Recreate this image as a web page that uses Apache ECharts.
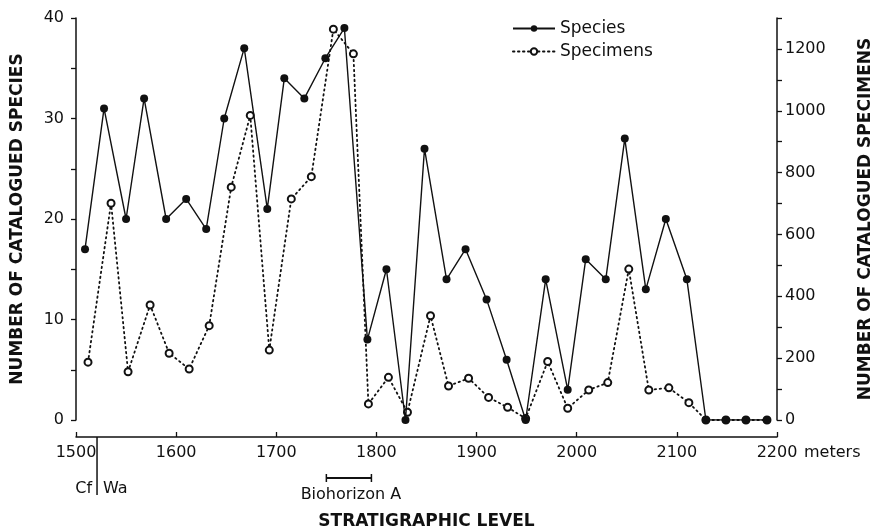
<!DOCTYPE html>
<html><head><meta charset="utf-8">
<script src="https://cdn.jsdelivr.net/npm/echarts@6/dist/echarts.min.js"></script>
<style>html,body{margin:0;padding:0;background:#fff}#c{width:879px;height:529px}</style>
</head><body><div id="c"></div>
<script>
// Stratigraphic level (meters) and catalogued species counts
const speciesLevel = [1509,1528,1550,1568,1590,1610,1630,1648,1668,1691,1708,1728,1749,1768,1791,1810,1829,1848,1870,1889,1910,1930,1949,1969,1991,2009,2029,2048,2069,2089,2110,2129,2149,2169,2190];
const speciesCount = [17,31,20,32,20,22,19,30,37,21,34,32,36,39,8,15,0,27,14,17,12,6,0,14,3,16,14,28,13,20,14,0,0,0,0];
// Stratigraphic level (meters) and catalogued specimen counts
const specimenLevel = [1512,1535,1552,1574,1593,1613,1633,1655,1674,1693,1715,1735,1757,1777,1792,1812,1831,1854,1872,1892,1912,1931,1949,1971,1991,2012,2031,2052,2072,2092,2112,2129,2149,2169,2190];
const specimenCount = [187,701,156,372,216,165,305,753,985,226,715,787,1264,1184,52,138,25,337,110,135,73,41,5,189,38,97,121,488,97,104,56,0,0,0,0];
// Annotations
const boundaryLevel = 1521;           // Cf | Wa boundary
const biohorizonA = [1750, 1795];     // Biohorizon A range

const FONT = 'DejaVu Sans';
const INK = '#111';
const chart = echarts.init(document.getElementById('c'), null, {renderer: 'canvas'});
const zip = (a, b) => a.map((v, i) => [v, b[i]]);

chart.setOption({
  animation: false,
  backgroundColor: '#fff',
  textStyle: {fontFamily: FONT, color: INK},
  grid: {left: 76, right: 102, top: 18, bottom: 109, containLabel: false, outerBoundsMode: 'none'},
  legend: {
    data: ['Species', 'Specimens'],
    orient: 'vertical', left: 507, top: 15,
    itemWidth: 42, itemHeight: 8, itemGap: 6,
    textStyle: {fontFamily: FONT, fontSize: 17, color: INK, lineHeight: 17}
  },
  xAxis: {
    type: 'value', min: 1500, max: 2200, interval: 100, offset: 17,
    name: 'STRATIGRAPHIC LEVEL', nameLocation: 'middle', nameGap: 76,
    nameTextStyle: {fontFamily: FONT, fontSize: 17, fontWeight: 'bold', color: INK},
    axisLine: {show: true, onZero: false, lineStyle: {color: INK, width: 1.5}},
    axisTick: {show: true, inside: true, length: 5, lineStyle: {color: INK, width: 1.3}},
    axisLabel: {fontFamily: FONT, fontSize: 16, color: INK, margin: 8, formatter: v => String(v)},
    splitLine: {show: false}
  },
  yAxis: [{
    type: 'value', min: 0, max: 40, interval: 5, position: 'left',
    name: 'NUMBER OF CATALOGUED SPECIES', nameLocation: 'middle', nameGap: 50, nameRotate: 90,
    nameTextStyle: {fontFamily: FONT, fontSize: 17, fontWeight: 'bold', color: INK},
    axisLine: {show: true, onZero: false, lineStyle: {color: INK, width: 1.5}},
    axisTick: {show: true, inside: false, length: 5, lineStyle: {color: INK, width: 1.3}},
    axisLabel: {fontFamily: FONT, fontSize: 16, color: INK, margin: 12,
      formatter: v => (v % 10 === 0 ? String(v) : '')},
    splitLine: {show: false}
  }, {
    type: 'value', min: 0, max: 1300, interval: 100, position: 'right',
    name: 'NUMBER OF CATALOGUED SPECIMENS', nameLocation: 'middle', nameGap: 80, nameRotate: 90,
    nameTextStyle: {fontFamily: FONT, fontSize: 17, fontWeight: 'bold', color: INK},
    axisLine: {show: true, onZero: false, lineStyle: {color: INK, width: 1.5}},
    axisTick: {show: true, inside: false, length: 5, lineStyle: {color: INK, width: 1.3}},
    axisLabel: {fontFamily: FONT, fontSize: 16, color: INK, margin: 8,
      formatter: v => (v % 200 === 0 && v < 1300 ? String(v) : '')},
    splitLine: {show: false}
  }],
  series: [{
    name: 'Specimens', type: 'line', yAxisIndex: 1,
    data: zip(specimenLevel, specimenCount),
    symbol: 'emptyCircle', symbolSize: 7, showSymbol: true,
    itemStyle: {color: INK, borderColor: INK, borderWidth: 1.4},
    lineStyle: {color: INK, width: 1.8, type: [1.4, 3.6], cap: 'round'},
    z: 2
  }, {
    name: 'Species', type: 'line', yAxisIndex: 0,
    data: zip(speciesLevel, speciesCount),
    symbol: 'circle', symbolSize: 8, showSymbol: true,
    itemStyle: {color: INK},
    lineStyle: {color: INK, width: 1.4},
    z: 3
  }]
});

function annotate() {
  const px = v => chart.convertToPixel({xAxisIndex: 0}, v);
  const base = chart.convertToPixel({yAxisIndex: 0}, 0);
  const axisY = base + 17;
  const bx = px(boundaryLevel);
  const b1 = px(biohorizonA[0]), b2 = px(biohorizonA[1]);
  const by = axisY + 41;
  const txt = (x, y, text, align, size) => ({
    type: 'text', x: x, y: y, silent: true,
    style: {text: text, fill: INK, font: `${size || 16}px "${FONT}"`, align: align, verticalAlign: 'middle'}
  });
  const line = (x1, y1, x2, y2, w) => ({
    type: 'line', silent: true,
    shape: {x1: x1, y1: y1, x2: x2, y2: y2},
    style: {stroke: INK, lineWidth: w || 1.5}
  });
  chart.setOption({
    graphic: [
      line(bx, axisY, bx, axisY + 58, 1.5),
      txt(bx - 5, axisY + 52, 'Cf', 'right'),
      txt(bx + 6, axisY + 52, 'Wa', 'left'),
      line(b1, by, b2, by, 1.8),
      line(b1, by - 4, b1, by + 4, 1.5),
      line(b2, by - 4, b2, by + 4, 1.5),
      txt((b1 + b2) / 2 + 2, axisY + 58, 'Biohorizon A', 'center'),
      txt(px(2200) + 27, axisY + 16, 'meters', 'left')
    ]
  });
}
annotate();
</script>
</body></html>
